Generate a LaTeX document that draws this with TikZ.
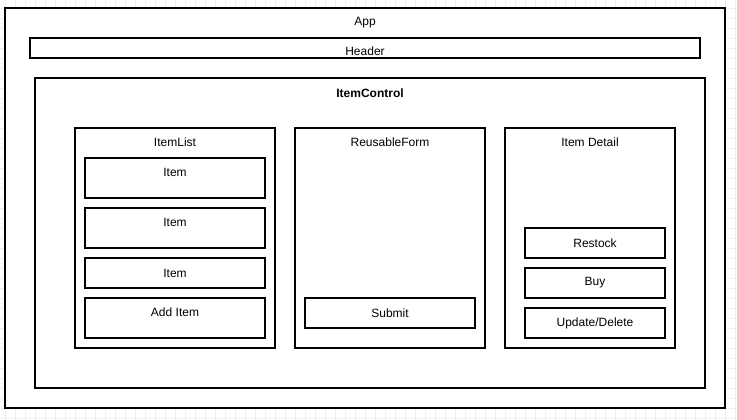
\documentclass[tikz,border=0pt]{standalone}
\usepackage{fontspec}
\setmainfont{Liberation Sans}
\begin{document}
\begin{tikzpicture}[x=0.75pt,y=-0.75pt,
  box/.style={draw=black,line width=0.8pt,fill=white},
  lbl/.style={font=\fontsize{9}{11}\selectfont,inner sep=0pt,anchor=center},
  lblb/.style={font=\fontsize{9}{11}\selectfont\bfseries,inner sep=0pt,anchor=center}]
\useasboundingbox (0,0) rectangle (737,420);
% background grid
\foreach \i in {0,...,73} {\draw[gray!12,line width=0.5pt] (5+\i*10,0) -- (5+\i*10,420);}
\foreach \j in {0,...,42} {\draw[gray!12,line width=0.5pt] (0,-2+\j*10) -- (737,-2+\j*10);}
% boxes
\draw[box] (5,8) rectangle (725,408);
\node[lbl] (app) at (365,22.5) {App};
\draw[box] (30,38) rectangle (700,58);
\node[lbl] (header) at (365,51.5) {Header};
\draw[box] (35,78) rectangle (705,388);
\node[lblb] (ic) at (370,93.5) {ItemControl};
% ItemList
\draw[box] (75,128) rectangle (275,348);
\node[lbl] (il) at (175,142.5) {ItemList};
\draw[box] (85,158) rectangle (265,198);
\node[lbl] (i1) at (175,172.5) {Item};
\draw[box] (85,208) rectangle (265,248);
\node[lbl] (i2) at (175,222.5) {Item};
\draw[box] (85,258) rectangle (265,288);
\node[lbl] (i3) at (175,273) {Item};
\draw[box] (85,298) rectangle (265,338);
\node[lbl] (add) at (175,312.5) {Add Item};
% ReusableForm
\draw[box] (295,128) rectangle (485,348);
\node[lbl] (rf) at (390,142.5) {ReusableForm};
\draw[box] (305,298) rectangle (475,328);
\node[lbl] (sub) at (390,313) {Submit};
% Item Detail
\draw[box] (505,128) rectangle (675,348);
\node[lbl] (id) at (590,142.5) {Item Detail};
\draw[box] (525,228) rectangle (665,258);
\node[lbl] (rs) at (595,243) {Restock};
\draw[box] (525,268) rectangle (665,298);
\node[lbl] (buy) at (595,283) {Buy};
\draw[box] (525,308) rectangle (665,338);
\node[lbl] (ud) at (595,323) {Update/Delete};
\end{tikzpicture}
\end{document}
